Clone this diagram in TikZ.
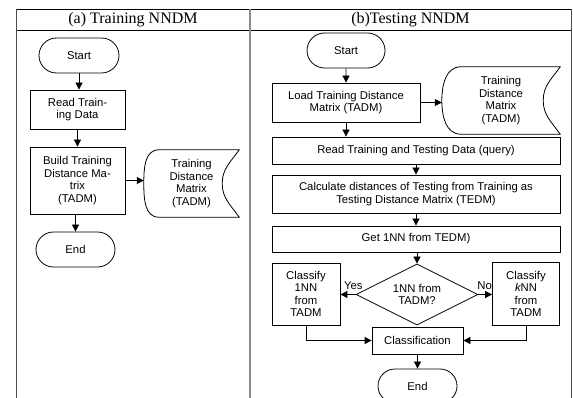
\documentclass[tikz,border=0pt]{standalone}
\usepackage{fontspec}
\setmainfont{Liberation Sans}
\newfontfamily\headfont{Liberation Serif}
\usetikzlibrary{shapes.misc,shapes.geometric,arrows.meta}

% outline of a "stored data" symbol drawn around a named node
\newcommand\storeshape[2]{%
  \draw[line width=.8pt] ([xshift=#2]#1.north west) -- (#1.north east)
    to[out=235,in=90] ([xshift=-17pt]#1.east)
    to[out=-90,in=125] (#1.south east)
    -- ([xshift=#2]#1.south west)
    to[out=180,in=-90] (#1.west)
    to[out=90,in=180] ([xshift=#2]#1.north west);}

\begin{document}
\begin{tikzpicture}[x=1pt,y=-1pt,
  every node/.style={font=\fontsize{11.3}{12.4}\selectfont, align=center, inner sep=0pt},
  proc/.style={draw, rectangle, line width=.8pt},
  term/.style={draw, rounded rectangle, line width=.8pt},
  decide/.style={draw, diamond, aspect=2, line width=.8pt},
  head/.style={font=\headfont\fontsize{16}{18}\selectfont},
  arr/.style={-{Triangle[length=7pt,width=7pt]}, line width=.8pt},
  link/.style={line width=.8pt},
  lbl/.style={font=\fontsize{11.3}{12.4}\selectfont}]

\useasboundingbox (0,0) rectangle (573,398);

% table frame
\draw[line width=.8pt] (16,9) -- (571,9) (16,30) -- (571,30);
\draw[black!70, line width=1pt] (16,9) -- (16,398) (571,9) -- (571,398);
\draw[black!45, line width=1.6pt] (250,9) -- (250,398);
\node[head] (ha) at (133,20) {(a) Training NNDM};
\node[head] (hb) at (410.5,20) {(b)Testing NNDM};

% (a) training
\node[term, minimum width=80, minimum height=35] (s1) at (79,55.5) {Start};
\node[proc, minimum width=95, minimum height=39] (r1) at (77.5,109.5) {Read Train-\\ing Data};
\node[proc, minimum width=95, minimum height=67] (b1) at (77.5,180.5) {Build Training\\Distance Ma-\\trix\\(TADM)};
\node[minimum width=95, minimum height=67] (m1) at (191.5,183.5) {Training\\Distance\\Matrix\\(TADM)};
\storeshape{m1}{15pt}
\node[term, minimum width=79, minimum height=35] (e1) at (75.5,249.5) {End};

\draw[arr] (s1.south) -- (s1.south |- r1.north);
\draw[arr] (r1.south) -- (r1.south |- b1.north);
\draw[arr] (b1.east) -- (b1.east -| m1.west);
\draw[arr] (e1.north |- b1.south) -- (e1.north);

% (b) testing
\node[term, minimum width=78, minimum height=35] (s2) at (346,50.5) {Start};
\node[proc, minimum width=148, minimum height=39] (l2) at (346,102.5) {Load Training Distance\\Matrix (TADM)};
\node[minimum width=118, minimum height=67] (m2) at (501,100.5) {Training\\Distance\\Matrix\\(TADM)};
\storeshape{m2}{19pt}
\node[proc, minimum width=288, minimum height=27] (q2) at (416,150.5) {Read Training and Testing Data (query)};
\node[proc, minimum width=288, minimum height=38] (c2) at (416,194) {Calculate distances of Testing from Training as\\Testing Distance Matrix (TEDM)};
\node[proc, minimum width=288, minimum height=26] (g2) at (416,239) {Get 1NN from TEDM)};
\node[decide, minimum width=122, minimum height=61] (d2) at (417,294.5) {1NN from\\TADM?};
\node[proc, minimum width=68, minimum height=62] (y2) at (306,294) {Classify\\1NN\\from\\TADM};
\node[proc, minimum width=67, minimum height=63] (n2) at (526,294) {Classify\\{\itshape k}NN\\from\\TADM};
\node[proc, minimum width=91, minimum height=27] (k2) at (417.5,340.5) {Classification};
\node[term, minimum width=79, minimum height=34] (e2) at (417.5,386) {End};

\draw[arr] (s2) -- (l2);
\draw[arr] (l2.east) -- (l2.east -| m2.west);
\draw[arr] (l2.south) -- (l2.south |- q2.north);
\draw[arr] (q2) -- (c2);
\draw[arr] (c2) -- (g2);
\draw[arr] (d2.north |- g2.south) -- (d2.north);
\draw[arr] (d2.west) -- (d2.west -| y2.east) node[lbl, pos=0.15, above=4pt] (yes) {Yes};
\draw[arr] (d2.east) -- (d2.east -| n2.west) node[lbl, pos=0.45, above=4pt] (no) {No};
\draw[arr] (y2.south) |- (k2.west);
\draw[arr] (n2.south) |- (k2.east);
\draw[arr] (k2) -- (e2);
\end{tikzpicture}
\end{document}
